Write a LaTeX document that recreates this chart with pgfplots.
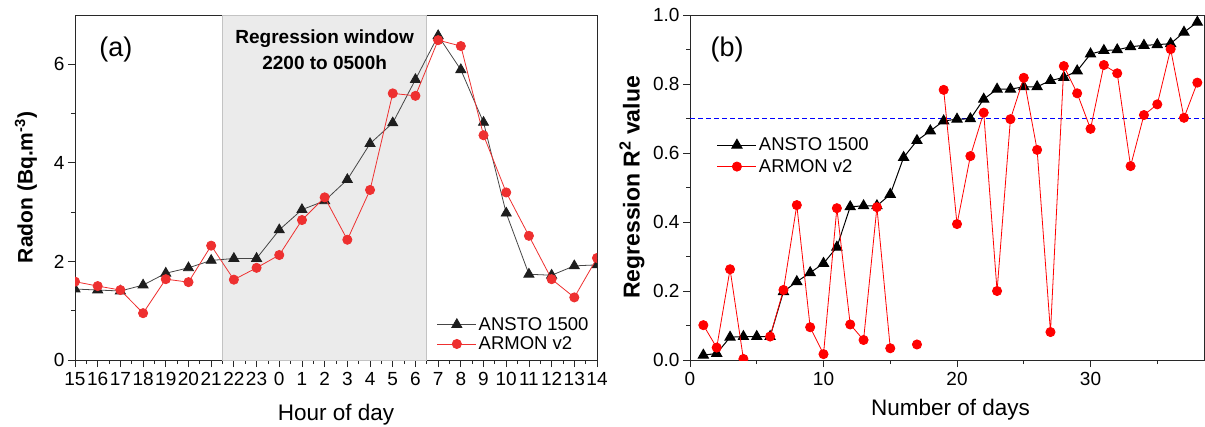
\documentclass[border=0pt]{standalone}
\usepackage{pgfplots}
\pgfplotsset{compat=1.18}
\usepackage{fontspec}
\setmainfont{Liberation Sans}
\definecolor{lred}{RGB}{238,48,48}
\definecolor{lblk}{RGB}{30,30,30}
\definecolor{lline}{RGB}{70,70,70}
\definecolor{shade}{RGB}{235,235,235}
\definecolor{shedge}{RGB}{195,195,195}
\definecolor{rred}{RGB}{255,0,0}
\definecolor{axc}{RGB}{40,40,40}

\pgfplotstableread{
x ansto armon
0 1.44 1.59
1 1.42 1.50
2 1.40 1.42
3 1.52 0.95
4 1.76 1.64
5 1.87 1.58
6 2.02 2.32
7 2.06 1.63
8 2.06 1.87
9 2.64 2.13
10 3.05 2.84
11 3.23 3.30
12 3.66 2.44
13 4.39 3.45
14 4.81 5.41
15 5.69 5.36
16 6.58 6.49
17 5.89 6.37
18 4.82 4.56
19 2.98 3.40
20 1.74 2.52
21 1.72 1.64
22 1.91 1.27
23 1.93 2.07
}\tableA

\pgfplotstableread{
d ansto armon
1 0.014 0.101
2 0.019 0.036
3 0.066 0.263
4 0.068 0.003
5 0.068 nan
6 0.068 0.068
7 0.198 0.203
8 0.227 0.449
9 0.253 0.095
10 0.280 0.017
11 0.327 0.440
12 0.444 0.103
13 0.447 0.058
14 0.447 0.443
15 0.480 0.034
16 0.587 nan
17 0.636 0.045
18 0.664 nan
19 0.693 0.783
20 0.698 0.394
21 0.699 0.591
22 0.756 0.717
23 0.785 0.200
24 0.785 0.698
25 0.792 0.818
26 0.792 0.609
27 0.810 0.081
28 0.819 0.852
29 0.838 0.773
30 0.887 0.670
31 0.897 0.855
32 0.899 0.831
33 0.908 0.562
34 0.912 0.710
35 0.914 0.741
36 0.917 0.901
37 0.950 0.702
38 0.979 0.804
}\tableB

\pgfplotsset{
  common/.style={
    scale only axis,
    tick pos=left, tick align=outside,
    major tick length=7pt, minor tick length=4pt,
    tick style={axc, line width=0.8pt},
    axis line style={axc, line width=0.9pt},
    ticklabel style={font=\fontsize{19}{19}\selectfont},
    xticklabel style={yshift=-2pt},
    /pgf/number format/assume math mode=true,
    clip marker paths=true,
    legend cell align=left,
    legend image code/.code={\draw[mark repeat=2,mark phase=2] plot coordinates {(0pt,0pt) (19.5pt,0pt) (39pt,0pt)};},
  }
}

\begin{document}
\begin{tikzpicture}[x=1pt,y=1pt]
\useasboundingbox (0,0) rectangle (1205,426);

\begin{axis}[common,
  at={(75pt,66pt)}, anchor=south west,
  width=522pt, height=345pt,
  xmin=0, xmax=23, ymin=0, ymax=7,
  xtick={0,...,23},
  xticklabels={15,16,17,18,19,20,21,22,23,0,1,2,3,4,5,6,7,8,9,10,11,12,13,14},
  minor x tick num=1,
  ytick={0,2,4,6}, minor ytick={1,3,5},
  xlabel={Hour of day},
  ylabel={Radon (Bq.m\textsuperscript{-3})},
  xlabel style={at={(axis description cs:0.5,-0.174)}, anchor=base, font=\fontsize{22.5}{22.5}\selectfont},
  ylabel style={at={(axis description cs:-0.094,0.5)}, anchor=center, font=\bfseries\fontsize{21}{21}\selectfont},
  legend style={at={(axis description cs:0.693,0.130)}, anchor=north west, draw=none, fill=none,
    font=\fontsize{18.5}{18.5}\selectfont, inner sep=0pt, row sep=1pt},
]
\addplot[draw=shedge, fill=shade, line width=0.6pt, forget plot] coordinates {(6.5,0) (6.5,7) (15.5,7) (15.5,0)} -- cycle;
\addplot[lline, line width=0.8pt, mark=triangle*, mark size=5.8pt, mark options={fill=lblk, draw=lblk}] table[x=x, y=ansto] {\tableA};
\addlegendentry{ANSTO 1500}
\addplot[lred, line width=0.8pt, mark=*, mark size=4.6pt, mark options={fill=lred, draw=lred}] table[x=x, y=armon] {\tableA};
\addlegendentry{ARMON v2}
\node[font=\fontsize{27}{27}\selectfont] at (rel axis cs:0.0785,0.899) {(a)};
\node[font=\bfseries\fontsize{19}{26}\selectfont, align=center] at (axis cs:11,6.3) {Regression window\\2200 to 0500h};
\end{axis}

\begin{axis}[common,
  at={(690pt,66pt)}, anchor=south west,
  width=514pt, height=345pt,
  xmin=0, xmax=38.5, ymin=0, ymax=1,
  xtick={0,10,20,30}, minor xtick={5,15,25,35},
  ytick={0,0.2,0.4,0.6,0.8,1.0}, minor ytick={0.1,0.3,0.5,0.7,0.9},
  yticklabel style={/pgf/number format/.cd, fixed, fixed zerofill, precision=1},
  unbounded coords=jump,
  xlabel={Number of days},
  ylabel={Regression R\textsuperscript{2} value},
  xlabel style={at={(axis description cs:0.507,-0.16)}, anchor=base, font=\fontsize{22.5}{22.5}\selectfont},
  ylabel style={at={(axis description cs:-0.113,0.5)}, anchor=center, font=\bfseries\fontsize{23}{23}\selectfont},
  legend style={at={(axis description cs:0.052,0.650)}, anchor=north west, draw=none, fill=none,
    font=\fontsize{18.5}{18.5}\selectfont, inner sep=0pt, row sep=3pt},
]
\addplot[blue, dashed, line width=0.9pt, forget plot, dash pattern=on 5pt off 3pt] coordinates {(0,0.7) (38.5,0.7)};
\addplot[black, line width=1pt, mark=triangle*, mark size=5.8pt, mark options={fill=black, draw=black}] table[x=d, y=ansto] {\tableB};
\addlegendentry{ANSTO 1500}
\addplot[rred, line width=0.8pt, mark=*, mark size=4.6pt, mark options={fill=rred, draw=rred}] table[x=d, y=armon] {\tableB};
\addlegendentry{ARMON v2}
\node[font=\fontsize{27}{27}\selectfont] at (rel axis cs:0.072,0.899) {(b)};
\end{axis}
\end{tikzpicture}
\end{document}
